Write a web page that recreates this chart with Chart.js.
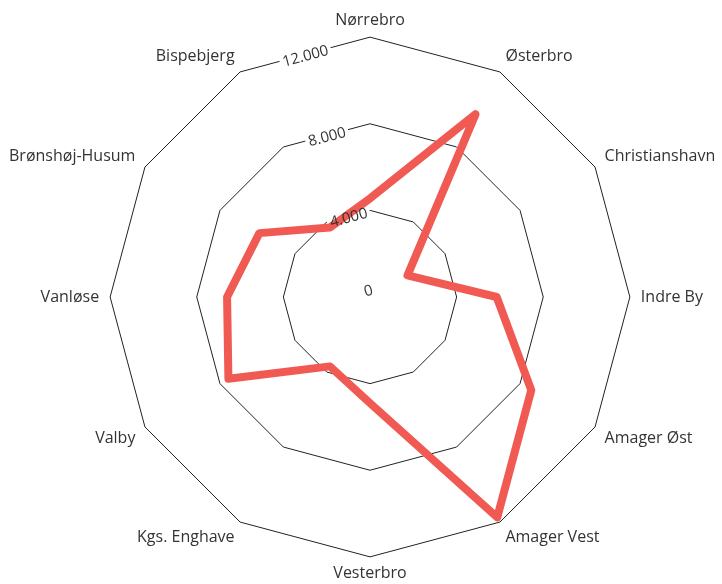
<!DOCTYPE html>
<html>
<head>
<meta charset="utf-8">
<script src="https://cdn.jsdelivr.net/npm/chart.js@4"></script>
<style>
  html, body { margin: 0; padding: 0; background: #fff; }
  #wrap { width: 722px; height: 584px; position: relative; }
</style>
</head>
<body>
<div id="wrap"><canvas id="c" width="722" height="584"></canvas></div>
<script>
const categories = ["Nørrebro", "Østerbro", "Christianshavn", "Indre By", "Amager Øst", "Amager Vest",
  "Vesterbro", "Kgs. Enghave", "Valby", "Vanløse", "Brønshøj-Husum", "Bispebjerg"];
const values = [4550, 9750, 2000, 5850, 8600, 11750, 4900, 3700, 7550, 6600, 5900, 3700];
const tickValues = [0, 4000, 8000, 12000];
const tickLabels = ["0", "4.000", "8.000", "12.000"];

const FONT = "'Open Sans', 'Noto Sans', sans-serif";
const TICK_ANGLE = -Math.PI / 12;

function tickGeom(scale, v) {
  const r = scale.getDistanceFromCenterForValue(v);
  return Math.max(r * Math.cos(Math.PI / 12) - 2, 6);
}

const tickPlugin = {
  id: 'rotTicks',
  beforeDatasetsDraw(chart) {
    const s = chart.scales.r;
    const ctx = chart.ctx;
    ctx.save();
    ctx.font = "15px " + FONT;
    ctx.translate(s.xCenter, s.yCenter);
    ctx.rotate(TICK_ANGLE);
    tickValues.forEach((v, i) => {
      const d = tickGeom(s, v);
      const w = ctx.measureText(tickLabels[i]).width;
      ctx.fillStyle = '#fff';
      ctx.fillRect(-w / 2 - 3, -d - 9, w + 6, 18);
    });
    ctx.restore();
  },
  afterDatasetsDraw(chart) {
    const s = chart.scales.r;
    const ctx = chart.ctx;
    ctx.save();
    ctx.font = "15px " + FONT;
    ctx.fillStyle = '#333';
    ctx.textAlign = 'center';
    ctx.textBaseline = 'middle';
    ctx.translate(s.xCenter, s.yCenter);
    ctx.rotate(TICK_ANGLE);
    tickValues.forEach((v, i) => {
      const d = tickGeom(s, v);
      ctx.fillText(tickLabels[i], 0, -d);
    });
    ctx.restore();
  }
};

new Chart(document.getElementById('c'), {
  type: 'radar',
  data: {
    labels: categories,
    datasets: [{
      data: values,
      borderColor: '#F05A52',
      borderWidth: 8,
      borderJoinStyle: 'round',
      fill: false,
      pointRadius: 0,
      pointHoverRadius: 0,
      tension: 0
    }]
  },
  options: {
    responsive: false,
    animation: false,
    devicePixelRatio: 1,
    layout: { padding: { left: 0, right: 0, top: 12, bottom: 1 } },
    plugins: { legend: { display: false }, tooltip: { enabled: false } },
    scales: {
      r: {
        min: 0,
        max: 12000,
        startAngle: 0,
        angleLines: { display: false },
        grid: { color: '#222', lineWidth: 1, circular: false },
        ticks: { display: false, stepSize: 4000 },
        pointLabels: {
          color: '#333',
          padding: 11,
          font: { family: FONT, size: 16, lineHeight: 0.7 }
        }
      }
    }
  },
  plugins: [tickPlugin]
});
</script>
</body>
</html>
